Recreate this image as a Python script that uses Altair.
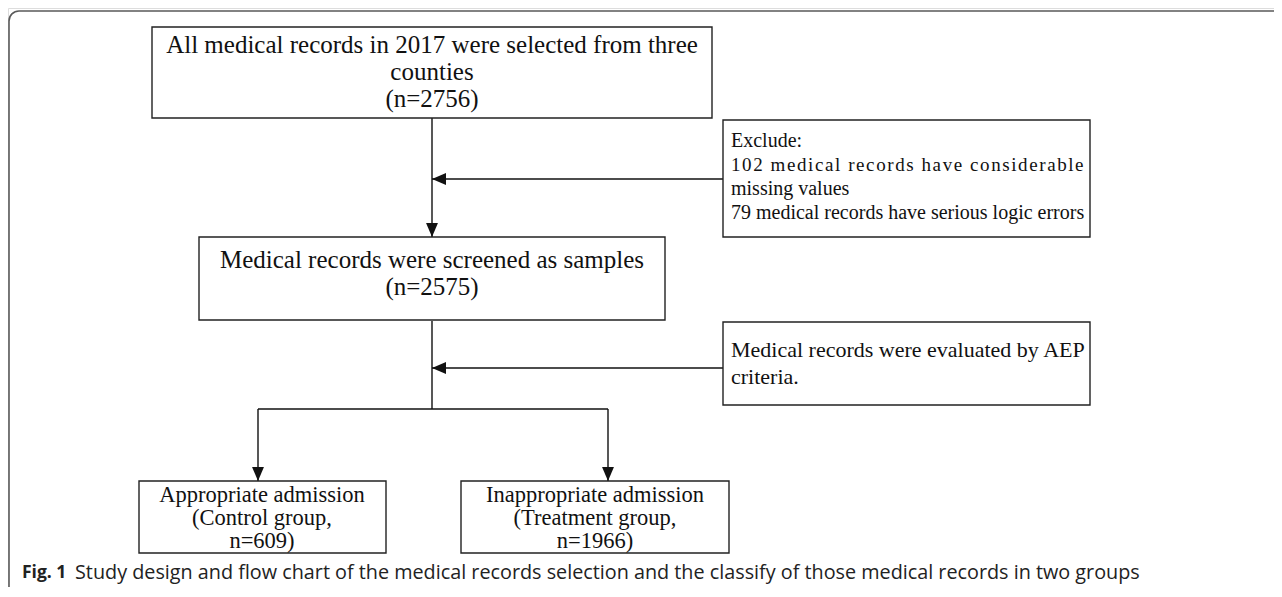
import altair as alt
import pandas as pd

# ---- flow chart boxes (page pixel layout) ----
box_id = ["all", "exclude", "screened", "aep", "control", "treatment"]
box_x1 = [152, 723, 199, 723, 139, 461]
box_x2 = [712, 1090, 665, 1090, 386, 729]
box_y1 = [27, 120, 237, 322, 481, 481]
box_y2 = [118, 237, 320, 405, 553, 553]

HS = "\u200a"  # hair space used for the letter-spaced (justified) line


def spaced(s, n):
    return (HS * n).join(s)


# ---- text lines ----
line_text = [
    "All medical records in 2017 were selected from three", "counties", "(n=2756)",
    "Exclude:", spaced("102 medical records have considerable", 1), "missing values",
    "79 medical records have serious logic errors",
    "Medical records were screened as samples", "(n=2575)",
    "Medical records were evaluated by AEP", "criteria.",
    "Appropriate admission", "(Control group,", "n=609)",
    "Inappropriate admission", "(Treatment group,", "n=1966)",
]
line_x = [432, 432, 432, 731, 731, 731, 731, 432, 432, 731, 731, 262, 262, 262, 595, 595, 595]
line_y = [45, 72, 99, 141, 165, 189, 213, 260, 287, 350, 377, 495, 518, 541, 495, 518, 541]
line_align = ["center"] * 3 + ["left"] * 4 + ["center"] * 2 + ["left"] * 2 + ["center"] * 6
line_size = [25, 25, 25, 20, 19, 20, 20, 25, 25, 22, 22, 22.5, 22.5, 22.5, 22.5, 22.5, 22.5]

# ---- connector lines ----
seg_x1 = [432, 723, 432, 723, 258, 258, 608]
seg_x2 = [432, 432, 432, 432, 608, 258, 608]
seg_y1 = [118, 179, 321, 368, 409, 409, 409]
seg_y2 = [237, 179, 409, 368, 409, 481, 481]

# ---- arrow heads (tip positions) ----
arrow_x = [432, 432, 432, 258, 608]
arrow_y = [237, 179, 368, 481, 481]
arrow_dir = ["down", "left", "left", "down", "down"]

# ---- caption ----
cap_text = ["Fig. 1", "Study design and flow chart of the medical records selection and the classify of those medical records in two groups"]
cap_x = [22, 75]
cap_y = [573, 573]
cap_weight = ["bold", "normal"]
cap_size = [17.5, 19.8]

X0, X1 = 8, 1274
Y0, Y1 = 8, 587
xs = alt.Scale(domain=[X0, X1])
ys = alt.Scale(domain=[Y0, Y1], reverse=True)

boxes = pd.DataFrame(dict(id=box_id, x1=box_x1, x2=box_x2, y1=box_y1, y2=box_y2))
lines = pd.DataFrame(dict(text=line_text, x=line_x, y=line_y, align=line_align, size=line_size))
segs = pd.DataFrame(dict(x1=seg_x1, x2=seg_x2, y1=seg_y1, y2=seg_y2))
HALF = 7
arr = pd.DataFrame(dict(x=arrow_x, y=arrow_y, d=arrow_dir))
arr["cx"] = [x + (HALF if d == "left" else 0) for x, d in zip(arr.x, arr.d)]
arr["cy"] = [y - (HALF if d == "down" else 0) for y, d in zip(arr.y, arr.d)]
cap = pd.DataFrame(dict(text=cap_text, x=cap_x, y=cap_y, w=cap_weight, size=cap_size))
frame = pd.DataFrame(dict(x1=[9], x2=[1300], y1=[11], y2=[604]))

noax = dict(axis=None)

frame_l = alt.Chart(frame).mark_rect(
    fill="white", fillOpacity=0, stroke="#5a5a5a", strokeWidth=1.6, cornerRadius=10, clip=True
).encode(
    x=alt.X("x1:Q", scale=xs, **noax), x2="x2:Q",
    y=alt.Y("y1:Q", scale=ys, **noax), y2="y2:Q",
)

box_l = alt.Chart(boxes).mark_rect(
    fill="white", stroke="#222", strokeWidth=1.4
).encode(
    x=alt.X("x1:Q", scale=xs, **noax), x2="x2:Q",
    y=alt.Y("y1:Q", scale=ys, **noax), y2="y2:Q",
)

seg_l = alt.Chart(segs).mark_rule(color="#111", strokeWidth=1.4).encode(
    x=alt.X("x1:Q", scale=xs, **noax), x2="x2:Q",
    y=alt.Y("y1:Q", scale=ys, **noax), y2="y2:Q",
)

down_l = alt.Chart(arr[arr.d == "down"]).mark_point(
    shape="M-0.85,-1L0.85,-1L0,1Z", size=196, filled=True, color="#111", opacity=1
).encode(
    x=alt.X("cx:Q", scale=xs, **noax), y=alt.Y("cy:Q", scale=ys, **noax)
)
left_l = alt.Chart(arr[arr.d == "left"]).mark_point(
    shape="M1,-0.85L1,0.85L-1,0Z", size=196, filled=True, color="#111", opacity=1
).encode(
    x=alt.X("cx:Q", scale=xs, **noax), y=alt.Y("cy:Q", scale=ys, **noax)
)

text_layers = []
for (al, sz), sub in lines.groupby(["align", "size"]):
    text_layers.append(
        alt.Chart(sub).mark_text(
            font="Liberation Serif", fontSize=float(sz), align=al, baseline="middle", color="#111"
        ).encode(
            x=alt.X("x:Q", scale=xs, **noax), y=alt.Y("y:Q", scale=ys, **noax), text="text:N"
        )
    )

cap_layers = []
for (w, sz), sub in cap.groupby(["w", "size"]):
    cap_layers.append(
        alt.Chart(sub).mark_text(
            font="Open Sans", fontSize=float(sz), fontWeight=w, align="left", baseline="middle", color="#222"
        ).encode(
            x=alt.X("x:Q", scale=xs, **noax), y=alt.Y("y:Q", scale=ys, **noax), text="text:N"
        )
    )

chart = alt.layer(
    frame_l, seg_l, box_l, down_l, left_l, *text_layers, *cap_layers
).properties(
    width=X1 - X0, height=Y1 - Y0, padding=0, autosize=alt.AutoSizeParams(type="none")
).configure_view(stroke=None).configure(background="white")

chart.save("out.html", embed_options={"renderer": "svg", "actions": False})
